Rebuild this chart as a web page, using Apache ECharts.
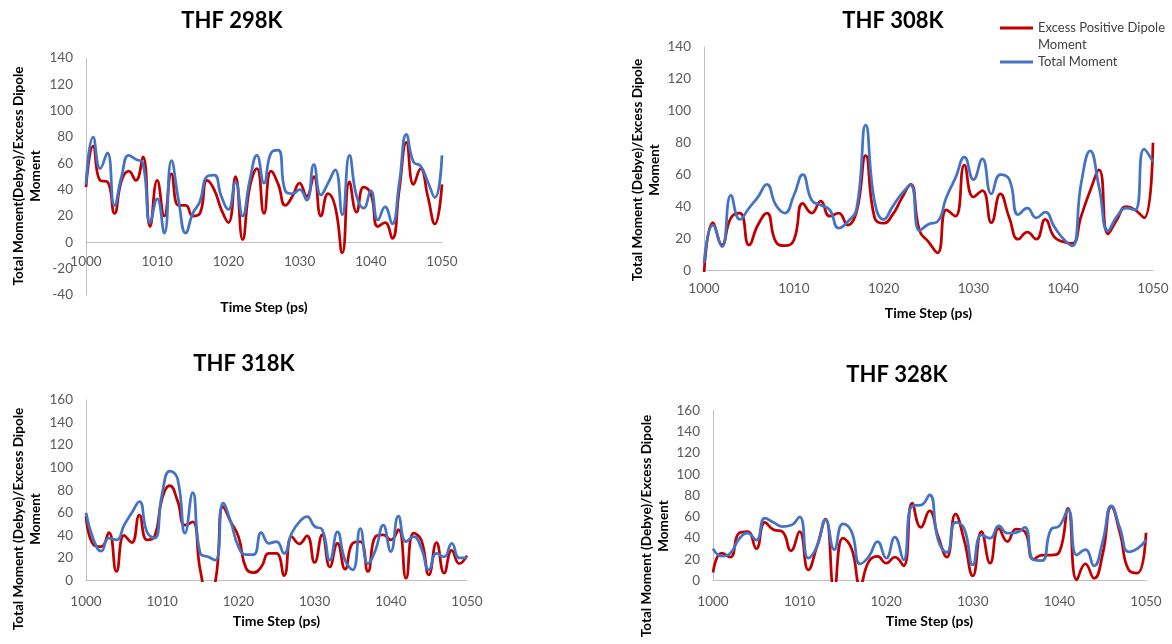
<!DOCTYPE html>
<html>
<head>
<meta charset="utf-8">
<script src="https://cdn.jsdelivr.net/npm/echarts@6/dist/echarts.min.js"></script>
<style>
html,body{margin:0;padding:0;background:#fff;}
#chart{width:1172px;height:644px;}
</style>
</head>
<body>
<div id="chart"></div>
<script>
// ---- Data ----
const timeSteps = [1000,1001,1002,1003,1004,1005,1006,1007,1008,1009,1010,1011,1012,1013,1014,1015,1016,1017,1018,1019,1020,1021,1022,1023,1024,1025,1026,1027,1028,1029,1030,1031,1032,1033,1034,1035,1036,1037,1038,1039,1040,1041,1042,1043,1044,1045,1046,1047,1048,1049,1050];

const panelTitles = ['THF 298K','THF 308K','THF 318K','THF 328K'];
const seriesNames = ['Excess Positive Dipole Moment','Total Moment'];

const excess298 = [42,73,47,46,22,47,54,47,65,12,47,20,52,28,28,20,22,47,40,25,15,50,2,42,56,22,54,44,28,35,45,35,50,20,37,27,-8,46,23,42,37,12,15,3,40,76,44,56,35,14,44];
const total298  = [44,80,56,68,28,50,66,63,60,15,33,7,62,32,7,22,31,50,51,35,25,46,20,47,66,45,68,70,39,37,40,32,59,36,45,55,21,66,35,26,39,17,27,14,45,82,61,58,46,34,66];

const excess308 = [-2,30,16,33,36,16,28.5,36,18,15.6,19,42,36,43.5,34,36,28.5,37,72,33,29.6,35,45,54,25,18,11,38,34,66,46,50,30,48,33,19.6,24,19.6,32,21,18,17,34,50,63,23,32,40,38,33,80];
const total308  = [4.6,28.5,15,47,32,39,46,54,41,36,47,60,44,41,38,26.5,30.6,39,91,43,32,40,48,53.5,25,29,30.6,46,58,71,57,70,48,60,57,35,39,33,36.5,27.5,20,15.4,54.6,75,52,25,34,39,38,76,68];

const excess318 = [57,31.6,30,42.5,8,40,33.6,58,36,39,73,84,71,49,52,9,-12,0,65.5,52,39,11,7,12,24,24,4.4,39,32.5,39.5,16,40.4,12,33,10,33,34.5,8,39,40.4,36,45,2,42,36,5,33.6,6.5,26.6,15,22];
const total318  = [60,36,26,37.5,36,49,60,70,43,37.5,77,97,90.6,42,78,24,21,18,68.5,52,30,23,23,42.5,33,34.5,24,42,52,56.7,48,45,18,43,18,9.5,46,15,27,49,25.7,57,34.5,39,28.6,9.5,24,21,33,20,20];

const excess328 = [7.5,25.7,22,44.5,46,30,54.6,47.7,46,28,46,10,32,57.7,-8,40,30,-4,18,22.6,16.3,22,13.8,72.8,50,65.6,41.4,22,62.4,38,4.4,46,16.3,49,36.7,48.3,46,20,24,24,27,68,0.6,15.7,2,25,69.6,44.5,10,7,45];
const total328  = [30,23,25.7,39,44.5,38,58.7,54.6,50.8,52,60,21,32,57,29,53.3,46,15.7,22.6,36.7,21,40.8,19.5,70.3,71,80.6,38,26.4,54.6,49,14.7,43,39.8,51.5,44.5,45,50,19.5,18.8,47.7,51.5,66.5,24,29,13.8,36.7,70.3,49,27,30,38];

const yMins = [-40,0,0,0];
const yMaxs = [140,140,160,160];

// ---- Styles / layout ----
const FONT = 'Lato';
const RED = '#C00000', BLUE = '#4472C4';
const AXIS_COLOR = '#bfbfbf', LABEL_COLOR = '#595959';

const grids = [
  {left:86,  top:58,    width:356, height:237},
  {left:704, top:47,    width:449, height:223.5},
  {left:86,  top:400,   width:381, height:180.5},
  {left:713, top:410.5, width:433, height:170}
];
const xNameGaps = [58, 36, 34, 34];
const xLabelMargins = [12, 11, 14, 14];
const titlePos = [[232,10],[893,10],[244,353],[897,364]];
const yNamePos = [
  {x:27, y:176, text:'Total Moment(Debye)/Excess Dipole\nMoment'},
  {x:646, y:170, text:'Total Moment (Debye)/Excess Dipole\nMoment'},
  {x:27, y:519, text:'Total Moment (Debye)/Excess Dipole\nMoment'},
  {x:655, y:526, text:'Total Moment (Debye)/Excess Dipole\nMoment'}
];

const panelData = [[excess298,total298],[excess308,total308],[excess318,total318],[excess328,total328]];

function pairs(arr){ return timeSteps.map((t,i)=>[t,arr[i]]); }

// x axis sits on the zero line: offset from grid bottom (negative = upward)
function zeroOffset(i){
  const g = grids[i];
  return -(0 - yMins[i]) / (yMaxs[i] - yMins[i]) * g.height;
}

const xAxes = grids.map((g,i)=>({
  type:'value', gridIndex:i, min:1000, max:1050, interval:10,
  offset: zeroOffset(i),
  axisLine:{show:true, onZero:false, lineStyle:{color:AXIS_COLOR, width:1}},
  axisTick:{show:false}, splitLine:{show:false},
  axisLabel:{color:LABEL_COLOR, fontFamily:FONT, fontSize:13.5, margin:xLabelMargins[i], showMinLabel:true, showMaxLabel:true,
    formatter:v=>String(v)},
  name:'Time Step (ps)', nameLocation:'middle', nameGap:xNameGaps[i],
  nameTextStyle:{fontFamily:FONT, fontWeight:'bold', fontSize:14, color:'#000'}
}));
const yAxes = grids.map((g,i)=>({
  type:'value', gridIndex:i, min:yMins[i], max:yMaxs[i], interval:20,
  axisLine:{show:true, lineStyle:{color:AXIS_COLOR, width:1}},
  axisTick:{show:false}, splitLine:{show:false},
  axisLabel:{color:LABEL_COLOR, fontFamily:FONT, fontSize:13.5, margin:13}
}));

const series = [];
panelData.forEach((pd,i)=>{
  series.push({name:seriesNames[0], type:'line', xAxisIndex:i, yAxisIndex:i, data:pairs(pd[0]),
    smooth:0.5, showSymbol:false, symbol:'none', lineStyle:{color:RED, width:2.75}, itemStyle:{color:RED}, z:2});
  series.push({name:seriesNames[1], type:'line', xAxisIndex:i, yAxisIndex:i, data:pairs(pd[1]),
    smooth:0.5, showSymbol:false, symbol:'none', lineStyle:{color:BLUE, width:2.75}, itemStyle:{color:BLUE}, z:3});
});

const titles = panelTitles.map((t,i)=>({
  text:t, left:titlePos[i][0], top:titlePos[i][1], textAlign:'center', padding:0,
  textStyle:{fontFamily:FONT, fontWeight:'bold', fontSize:22, color:'#000'}
}));

const graphics = yNamePos.map(p=>({
  type:'text', x:p.x, y:p.y, rotation:Math.PI/2,
  style:{text:p.text, align:'center', verticalAlign:'middle', fontFamily:FONT, fontWeight:'bold', fontSize:13.5, lineHeight:17, fill:'#000'}
}));

const chart = echarts.init(document.getElementById('chart'));
chart.setOption({
  animation:false,
  backgroundColor:'#fff',
  title:titles,
  legend:[
    {data:[seriesNames[0]], left:1000, top:2.5, orient:'vertical', padding:0, icon:'rect', itemWidth:33, itemHeight:3,
     formatter:()=> ' \nExcess Positive Dipole\nMoment',
     textStyle:{fontFamily:FONT, fontSize:13, color:'#404040', lineHeight:17}},
    {data:[seriesNames[1]], left:1000, top:53.5, orient:'vertical', padding:0, icon:'rect', itemWidth:33, itemHeight:3,
     textStyle:{fontFamily:FONT, fontSize:13, color:'#404040', lineHeight:17}}
  ],
  grid:grids,
  xAxis:xAxes,
  yAxis:yAxes,
  series:series,
  graphic:graphics
});
</script>
</body>
</html>
